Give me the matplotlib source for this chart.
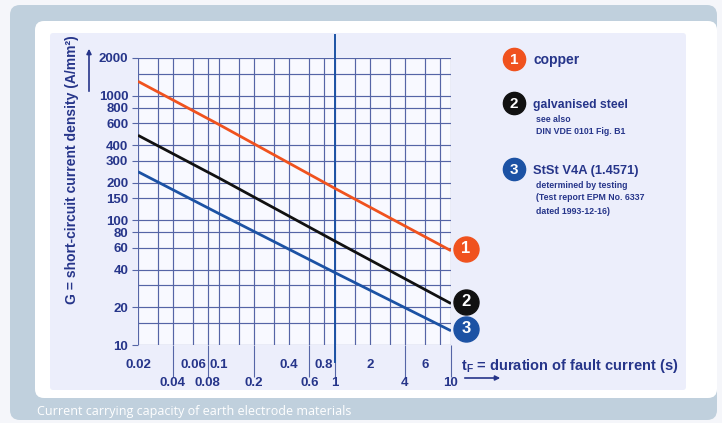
import matplotlib
matplotlib.use("Agg")
import matplotlib.pyplot as plt
from matplotlib.patches import FancyBboxPatch
from matplotlib.transforms import offset_copy

# data (duration of fault current in s, current density in A/mm2)
t_fault = [0.02, 0.1, 1, 10]
copper = [1300, 585, 180, 57]
galv_steel = [480, 218, 68, 21.5]
stst_v4a = [245, 113, 38, 13]

grid_x = [0.02, 0.03, 0.04, 0.06, 0.08, 0.1, 0.15, 0.2, 0.3, 0.4, 0.6, 0.8,
          1, 1.5, 2, 3, 4, 6, 8, 10]
grid_y = [10, 15, 20, 30, 40, 60, 80, 100, 150, 200, 300, 400, 600, 800,
          1000, 1500, 2000]
ytick_vals = [10, 20, 40, 60, 80, 100, 150, 200, 300, 400, 600, 800, 1000, 2000]
xtick_low = [0.04, 0.08, 0.2, 0.6, 1, 4, 10]
xtick_high = [0.02, 0.06, 0.1, 0.4, 0.8, 2, 6]

NAVY = '#26358a'
ORANGE = '#f0521e'
BLACK = '#111111'
BLUE = '#1c52a4'
GRID = '#5565a6'

plt.rcParams['font.family'] = ['Liberation Sans', 'DejaVu Sans']
plt.rcParams['mathtext.fontset'] = 'custom'
plt.rcParams['mathtext.rm'] = 'Liberation Sans:bold'
plt.rcParams['mathtext.it'] = 'Liberation Sans:bold'
plt.rcParams['mathtext.bf'] = 'Liberation Sans:bold'

fig = plt.figure(figsize=(7.22, 4.23), dpi=100)
fig.patch.set_facecolor('#f5f6fa')

# background panels in pixel coordinates
bg = fig.add_axes([0, 0, 1, 1], zorder=-5)
bg.set_xlim(0, 722)
bg.set_ylim(423, 0)
bg.axis('off')
bg.add_patch(FancyBboxPatch((10, 5), 707, 415, boxstyle='round,pad=0,rounding_size=10',
                            fc='#c0d0dd', ec='none'))
bg.add_patch(FancyBboxPatch((35, 21), 682, 377, boxstyle='round,pad=0,rounding_size=9',
                            fc='white', ec='none'))
bg.add_patch(FancyBboxPatch((50, 33), 636, 357, boxstyle='round,pad=0,rounding_size=3',
                            fc='#eceefb', ec='none'))
bg.text(37, 412, 'Current carrying capacity of earth electrode materials',
        color='white', fontsize=9, family=['Open Sans', 'DejaVu Sans'], va='center')

# legend
legend = [
    ('1', ORANGE, 59, 60, 'copper', 10, []),
    ('2', BLACK, 103, 105, 'galvanised steel', 8.8, ['see also', 'DIN VDE 0101 Fig. B1']),
    ('3', BLUE, 169, 171, 'StSt V4A (1.4571)', 9.3, ['determined by testing',
                                                    '(Test report EPM No. 6337',
                                                    'dated 1993-12-16)']),
]
for num, col, yc, yt, title, fs, notes in legend:
    bg.plot(514, yc, 'o', ms=16, color=col)
    bg.text(514, yc + 0.5, num, color='white', fontsize=11, fontweight='bold',
            ha='center', va='center')
    bg.text(533, yt, title, color=NAVY, fontsize=fs, fontweight='bold', va='center')
    for i, note in enumerate(notes):
        bg.text(536, yt + 14 + i * 13, note, color=NAVY, fontsize=6.3,
                fontweight='bold', va='center')

# y label with arrow
bg.text(72, 170, 'G = short-circuit current density (A/mm²)', rotation=90,
        color=NAVY, fontsize=10, fontweight='bold', ha='center', va='center')
bg.annotate('', xy=(89, 46), xytext=(89, 94),
            arrowprops=dict(arrowstyle='-|>', color=NAVY, lw=1.2, mutation_scale=7))

# x label with arrow
bg.text(461, 366, '$\\mathrm{t_F}$ = duration of fault current (s)', color=NAVY,
        fontsize=10.5, fontweight='bold', va='center')
bg.annotate('', xy=(503, 378), xytext=(462, 378),
            arrowprops=dict(arrowstyle='-|>', color=NAVY, lw=1.2, mutation_scale=7))

# main chart
ax = fig.add_axes([138 / 722, 1 - 345 / 423, 313 / 722, 287 / 423])
ax.set_facecolor('#f8f9ff')
ax.set_xscale('log')
ax.set_yscale('log')
ax.set_xlim(0.02, 10)
ax.set_ylim(10, 2000)

for gx in grid_x:
    ax.axvline(gx, color=GRID, lw=0.85, zorder=1)
for gy in grid_y:
    ax.axhline(gy, color=GRID, lw=0.85, zorder=1)
ax.axvline(1, ymin=-0.06, ymax=1.08, color=BLUE, lw=1.4, clip_on=False, zorder=2)

for s in ax.spines.values():
    s.set_visible(False)

ax.set_yticks(ytick_vals, [str(v) for v in ytick_vals])
ax.yaxis.set_minor_locator(plt.NullLocator())
ax.tick_params(axis='y', which='major', length=4, width=0.8, color=GRID,
               pad=3, labelsize=9.5, labelcolor=NAVY)

ax.set_xticks(xtick_low, [f'{v:g}' for v in xtick_low])
ax.set_xticks(xtick_high, [f'{v:g}' for v in xtick_high], minor=True)
ax.tick_params(axis='x', which='major', length=23, width=0.8, color=GRID,
               pad=0, labelsize=9.5, labelcolor=NAVY)
ax.tick_params(axis='x', which='minor', length=0, pad=10, labelsize=9.5,
               labelcolor=NAVY)
for lab in ax.get_xticklabels(which='both') + ax.get_yticklabels():
    lab.set_fontweight('bold')

series = [(copper, ORANGE, '1'), (galv_steel, BLACK, '2'), (stst_v4a, BLUE, '3')]
for vals, col, num in series:
    ax.plot(t_fault, vals, color=col, lw=2.0, zorder=3, solid_capstyle='butt')
    tr = offset_copy(ax.transData, fig=fig, x=15, y=2, units='dots')
    ax.plot(t_fault[-1], vals[-1], 'o', ms=18, color=col, transform=tr,
            clip_on=False, zorder=5)
    ax.text(t_fault[-1], vals[-1], num, transform=tr, color='white', fontsize=12,
            fontweight='bold', ha='center', va='center', zorder=6, clip_on=False)

fig.savefig('out.png', dpi=100, facecolor=fig.get_facecolor())
